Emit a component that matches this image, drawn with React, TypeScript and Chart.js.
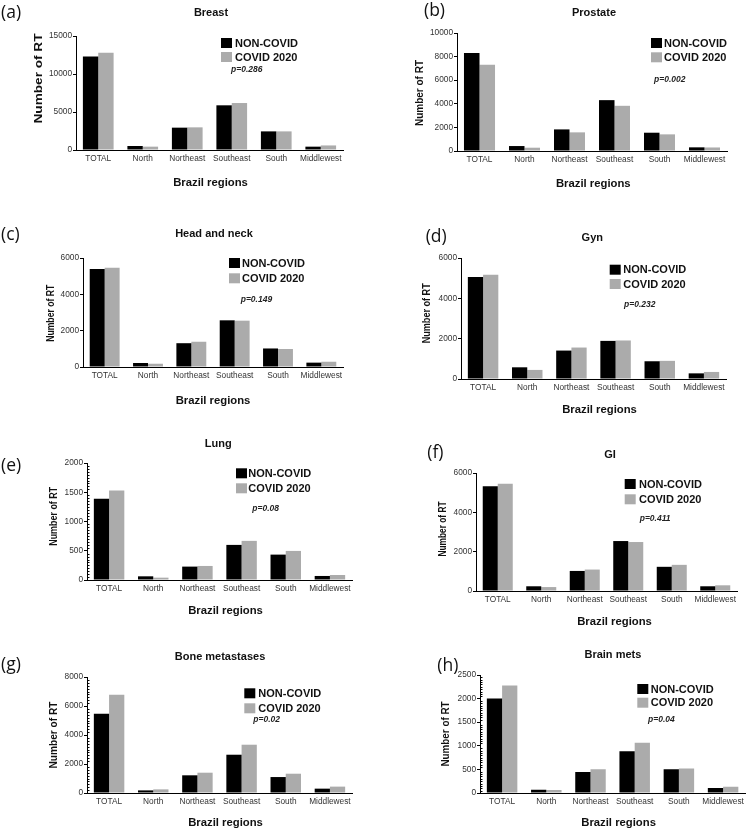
import React, { useEffect, useRef } from "react";
import { Chart, registerables } from "chart.js";
Chart.register(...registerables);

// ---------- DATA ----------
const categories = ["TOTAL", "North", "Northeast", "Southeast", "South", "Middlewest"];
const seriesNames = ["NON-COVID", "COVID 2020"];
const panelLetters = ["(a)", "(b)", "(c)", "(d)", "(e)", "(f)", "(g)", "(h)"];
const panelTitles = ["Breast", "Prostate", "Head and neck", "Gyn", "Lung", "GI", "Bone metastases", "Brain mets"];
const pValues = ["p=0.286", "p=0.002", "p=0.149", "p=0.232", "p=0.08", "p=0.411", "p=0.02", "p=0.04"];
const yMax = [15000, 10000, 6000, 6000, 2000, 6000, 8000, 2500];
const yStep = [5000, 2000, 2000, 2000, 500, 2000, 2000, 500];
const xAxisTitle = "Brazil regions";
const yAxisTitle = "Number of RT";

const breastNonCovid = [12300, 530, 2940, 5880, 2450, 440];
const breastCovid = [12800, 440, 2980, 6180, 2450, 600];
const prostateNonCovid = [8300, 420, 1830, 4310, 1550, 310];
const prostateCovid = [7300, 280, 1580, 3830, 1410, 300];
const headNeckNonCovid = [5400, 220, 1310, 2570, 1020, 240];
const headNeckCovid = [5470, 180, 1390, 2550, 990, 290];
const gynNonCovid = [5060, 580, 1410, 1890, 880, 280];
const gynCovid = [5170, 450, 1560, 1910, 900, 350];
const lungNonCovid = [1390, 63, 229, 600, 434, 69];
const lungCovid = [1530, 40, 240, 669, 497, 86];
const giNonCovid = [5320, 240, 1020, 2540, 1230, 240];
const giCovid = [5450, 200, 1090, 2490, 1330, 290];
const boneNonCovid = [5470, 180, 1220, 2640, 1100, 300];
const boneCovid = [6780, 250, 1400, 3330, 1330, 440];
const brainNonCovid = [2000, 71, 446, 885, 503, 106];
const brainCovid = [2280, 65, 503, 1062, 517, 135];

const nonCovidByPanel = [breastNonCovid, prostateNonCovid, headNeckNonCovid, gynNonCovid, lungNonCovid, giNonCovid, boneNonCovid, brainNonCovid];
const covidByPanel = [breastCovid, prostateCovid, headNeckCovid, gynCovid, lungCovid, giCovid, boneCovid, brainCovid];

// ---------- LAYOUT (page coordinates) ----------
type Lay = {
  cell: number[]; plot: number[]; letter: number[]; title: number[];
  legend: number[]; p: number[]; yTitle: number[]; xTitle: number[]; minor: number;
};
const LAYOUTS: Lay[] = [
  { cell: [0, 0, 374, 200], plot: [76, 36, 343, 150], letter: [1, 13], title: [1.5, 13.3], legend: [221, 43, 235, 14], p: [231, 70], yTitle: [-37, 78.5, 90], xTitle: [1, 32.7], minor: 0 },
  { cell: [374, 0, 374, 200], plot: [457, 33, 727, 151], letter: [424, 10.7], title: [2, 12.7], legend: [651, 43, 664, 14.3], p: [654, 79.3], yTitle: [-37, 93, 66], xTitle: [1.3, 33.3], minor: 0 },
  { cell: [0, 200, 374, 220], plot: [83, 258, 343, 367], letter: [1, 235], title: [1, 234.3], legend: [229, 263, 242, 15.3], p: [240.7, 299.3], yTitle: [-32, 313.3, 57], xTitle: [0, 34], minor: 0 },
  { cell: [374, 200, 374, 220], plot: [461, 258, 726, 379], letter: [425.7, 236.7], title: [-1.2, 238.3], legend: [609.7, 269.7, 623.3, 14.3], p: [624, 304.3], yTitle: [-34, 313.3, 60], xTitle: [6, 31], minor: 0 },
  { cell: [0, 420, 374, 210], plot: [87, 463, 352, 580], letter: [1, 465.7], title: [-1.2, 444], legend: [236, 473.3, 248.3, 15], p: [252.3, 508.3], yTitle: [-33, 516.3, 59], xTitle: [6, 30.7], minor: 10 },
  { cell: [374, 420, 374, 210], plot: [476, 473, 737, 591], letter: [427.3, 453.3], title: [3.5, 455], legend: [624.7, 484, 639, 15.3], p: [639.7, 518.3], yTitle: [-33, 529, 55], xTitle: [8, 30.7], minor: 0 },
  { cell: [0, 630, 374, 201], plot: [87, 677, 352, 793], letter: [1, 665], title: [0.5, 657.3], legend: [244.3, 693.3, 258.3, 15], p: [253.3, 720], yTitle: [-33, 735, 67], xTitle: [6, 29.7], minor: 10 },
  { cell: [374, 630, 374, 201], plot: [480, 675, 746, 793], letter: [437.3, 665.7], title: [0.3, 655], legend: [637.3, 689, 650.7, 13.7], p: [648, 720], yTitle: [-33.5, 734, 65], xTitle: [6, 29.7], minor: 10 },
];

const FONT = '"Liberation Sans", Arial, Helvetica, sans-serif';
const BLACK = "#000000";
const GRAY = "#ababab";
const YW = 30;
const XH = 16;

function Panel({ idx }: { idx: number }) {
  const ref = useRef<HTMLCanvasElement>(null);
  const L = LAYOUTS[idx];
  const [cx, cy, cw, ch] = L.cell;

  useEffect(() => {
    const canvas = ref.current;
    if (!canvas) return;
    const [pl, pt, pr, pb] = L.plot;

    const decor = {
      id: "decor" + idx,
      afterDraw(chart: any) {
        const ctx = chart.ctx as CanvasRenderingContext2D;
        const area = chart.chartArea;
        const ox = cx, oy = cy;
        ctx.save();
        // minor ticks
        if (L.minor) {
          const ys = chart.scales.y;
          const st = yStep[idx] / L.minor;
          ctx.strokeStyle = "#000";
          ctx.lineWidth = 1;
          ctx.beginPath();
          for (let k = 1; k * st < yMax[idx]; k++) {
            if (k % L.minor === 0) continue;
            const py = Math.round(ys.getPixelForValue(k * st)) + 0.5;
            ctx.moveTo(area.left, py);
            ctx.lineTo(area.left + 2.5, py);
          }
          ctx.stroke();
        }
        // panel letter
        ctx.fillStyle = "#111";
        ctx.textBaseline = "middle";
        ctx.textAlign = "left";
        ctx.font = '17.5px "Open Sans", "Noto Sans", sans-serif';
        ctx.fillText(panelLetters[idx], L.letter[0] - ox, L.letter[1] - oy);
        // title
        const midX = (area.left + area.right) / 2;
        ctx.textAlign = "center";
        ctx.font = `bold 11px ${FONT}`;
        ctx.fillText(panelTitles[idx], midX + L.title[0], L.title[1] - oy);
        // x axis title
        ctx.font = `bold 11.3px ${FONT}`;
        ctx.fillText(xAxisTitle, midX + L.xTitle[0], area.bottom + L.xTitle[1]);
        // y axis title (rotated, stretched to measured length)
        ctx.save();
        ctx.translate(area.left + L.yTitle[0], L.yTitle[1] - oy);
        ctx.rotate(-Math.PI / 2);
        ctx.font = `bold 10.5px ${FONT}`;
        const w = ctx.measureText(yAxisTitle).width;
        ctx.scale(L.yTitle[2] / w, 1);
        ctx.fillText(yAxisTitle, 0, 0);
        ctx.restore();
        // legend
        const [bx, by, tx, gap] = L.legend;
        const colors = [BLACK, GRAY];
        ctx.textAlign = "left";
        ctx.font = `bold 11px ${FONT}`;
        for (let i = 0; i < 2; i++) {
          const yc = by + i * gap - oy;
          ctx.fillStyle = colors[i];
          ctx.fillRect(bx - ox, yc - 5, 11, 10);
          ctx.fillStyle = "#111";
          ctx.fillText(seriesNames[i], tx - ox, yc + 0.5);
        }
        // p value
        ctx.font = `italic bold 8.5px ${FONT}`;
        ctx.fillStyle = "#222";
        ctx.fillText(pValues[idx], L.p[0] - ox, L.p[1] - oy);
        ctx.restore();
      },
    };

    const chart = new Chart(canvas, {
      type: "bar",
      data: {
        labels: categories,
        datasets: [
          { label: seriesNames[0], data: nonCovidByPanel[idx], backgroundColor: BLACK, borderWidth: 0, categoryPercentage: 0.69, barPercentage: 1.0 },
          { label: seriesNames[1], data: covidByPanel[idx], backgroundColor: GRAY, borderWidth: 0, categoryPercentage: 0.69, barPercentage: 1.0 },
        ],
      },
      options: {
        animation: false,
        responsive: false,
        maintainAspectRatio: false,
        events: [],
        layout: {
          padding: {
            left: pl - cx - YW,
            top: pt - cy,
            right: cx + cw - pr,
            bottom: cy + ch - pb - XH,
          },
        },
        plugins: {
          legend: { display: false },
          title: { display: false },
          tooltip: { enabled: false },
        },
        scales: {
          x: {
            grid: { display: false, drawTicks: false },
            border: { display: true, color: "#000", width: 1 },
            ticks: { font: { family: FONT, size: 8.3 }, color: "#333", padding: 4, maxRotation: 0, autoSkip: false },
            afterFit: (s: any) => { s.height = XH; },
          },
          y: {
            min: 0,
            max: yMax[idx],
            ticks: {
              stepSize: yStep[idx],
              font: { family: FONT, size: 8.3 },
              color: "#333",
              padding: 1,
              callback: (v: any) => String(v),
            },
            grid: { drawOnChartArea: false, drawTicks: true, tickLength: 3, color: "#000" },
            border: { display: true, color: "#000", width: 1 },
            afterFit: (s: any) => { s.width = YW; },
          },
        },
      },
      plugins: [decor],
    } as any);
    return () => chart.destroy();
  }, []);

  return (
    <canvas
      ref={ref}
      width={cw}
      height={ch}
      style={{ position: "absolute", left: cx, top: cy, width: cw, height: ch }}
    />
  );
}

export default function App() {
  return (
    <div style={{ position: "absolute", left: 0, top: 0, width: 748, height: 831, background: "#fff" }}>
      {panelTitles.map((_, i) => (
        <Panel key={i} idx={i} />
      ))}
    </div>
  );
}
